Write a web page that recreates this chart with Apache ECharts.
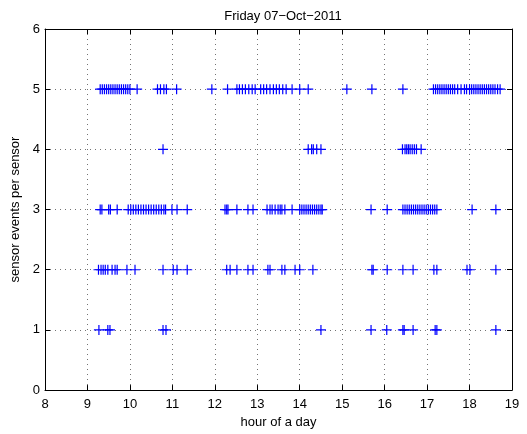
<!DOCTYPE html>
<html>
<head>
<meta charset="utf-8">
<title>sensor events</title>
<script src="https://cdn.jsdelivr.net/npm/echarts@6/dist/echarts.min.js"></script>
<style>
  body { margin: 0; background: #fff; }
  #main { width: 527px; height: 434px; }
</style>
</head>
<body>
<div id="main"></div>
<script>
// hours at which each event count was seen
var hours5 = [9.3, 9.35, 9.4, 9.45, 9.5, 9.55, 9.6, 9.65, 9.7, 9.75, 9.8, 9.85, 9.9, 9.95, 10.0, 10.17,
  10.65, 10.72, 10.8, 10.86, 11.1, 11.93, 12.3, 12.52, 12.58, 12.65, 12.72, 12.8, 12.88, 12.95,
  13.08, 13.15, 13.22, 13.3, 13.38, 13.45, 13.52, 13.6, 13.68, 13.82, 14.0, 14.2,
  15.11, 15.7, 16.43,
  17.15, 17.2, 17.25, 17.3, 17.35, 17.4, 17.45, 17.5, 17.55, 17.6, 17.65, 17.72, 17.8,
  17.88, 17.93, 18.0, 18.05, 18.1, 18.15, 18.2, 18.25, 18.3, 18.35, 18.4, 18.45, 18.5, 18.55, 18.6, 18.66, 18.72];
var hours4 = [10.78, 14.2, 14.28, 14.32, 14.4, 14.5,
  16.42, 16.48, 16.52, 16.56, 16.6, 16.65, 16.7, 16.75, 16.86];
var hours3 = [9.3, 9.34, 9.5, 9.54, 9.7,
  9.96, 10.02, 10.08, 10.14, 10.2, 10.26, 10.32, 10.38, 10.44, 10.5, 10.56, 10.62, 10.68, 10.74, 10.8, 10.84,
  10.99, 11.11, 11.35, 12.24, 12.28, 12.31, 12.52, 12.78, 12.9,
  13.23, 13.3, 13.35, 13.42, 13.49, 13.54, 13.58, 13.65, 13.82,
  14.0, 14.05, 14.1, 14.15, 14.2, 14.25, 14.3, 14.35, 14.4, 14.45, 14.5, 14.53,
  15.68, 16.06,
  16.43, 16.48, 16.53, 16.58, 16.63, 16.68, 16.73, 16.78, 16.83, 16.88, 16.93, 16.98, 17.03, 17.08, 17.13, 17.18, 17.23,
  18.06, 18.62];
var hours2 = [9.26, 9.32, 9.37, 9.42, 9.48, 9.58, 9.65, 9.7, 9.93, 10.12, 10.78, 11.02, 11.11, 11.35,
  12.28, 12.36, 12.52, 12.78, 12.9, 13.25, 13.3, 13.58, 13.65, 13.89, 14.0, 14.31,
  15.7, 15.73, 16.06, 16.43, 16.67, 17.16, 17.23, 17.94, 18.01, 18.62];
var hours1 = [9.27, 9.48, 9.53, 10.78, 10.85, 14.5, 15.68, 16.05, 16.43, 16.46, 16.67, 17.19, 17.23, 18.62];
var xTicks = [8, 9, 10, 11, 12, 13, 14, 15, 16, 17, 18, 19];
var yTicks = [0, 1, 2, 3, 4, 5, 6];

var points = [];
[[1, hours1], [2, hours2], [3, hours3], [4, hours4], [5, hours5]].forEach(function (row) {
  row[1].forEach(function (h) { points.push([h, row[0]]); });
});

var font = 'Liberation Sans, Arial, sans-serif';
var plus = 'path://M4.4,0h1.2v4.4h4.4v1.2h-4.4v4.4h-1.2v-4.4h-4.4v-1.2h4.4z';

function axisBase(show, margin) {
  return {
    axisLine: { show: true, onZero: false, lineStyle: { color: '#000', width: 1 } },
    axisTick: { show: true, inside: true, length: 5, lineStyle: { color: '#000' } },
    axisLabel: { show: show, color: '#000', fontSize: 13, fontFamily: font, margin: margin }
  };
}

var grid = { color: '#000', type: [1, 4], width: 1, opacity: 0.55 };

var myChart = echarts.init(document.getElementById('main'));
var option = {
  animation: false,
  backgroundColor: '#fff',
  title: {
    text: 'Friday 07\u2212Oct\u22122011',
    left: 278, top: 5, textAlign: 'center',
    textStyle: { fontSize: 13, fontWeight: 'normal', color: '#000', fontFamily: font }
  },
  grid: { left: 45, right: 15, top: 29, bottom: 38 },
  xAxis: [
    Object.assign(axisBase(true, 8), {
      type: 'value', min: 8, max: 19, interval: 1, position: 'bottom',
      name: 'hour of a day', nameLocation: 'middle', nameGap: 22,
      nameTextStyle: { fontSize: 13, color: '#000', fontFamily: font },
      splitLine: { show: true, lineStyle: grid }
    }),
    Object.assign(axisBase(false, 8), {
      type: 'value', min: 8, max: 19, interval: 1, position: 'top', splitLine: { show: false }
    })
  ],
  yAxis: [
    Object.assign(axisBase(true, 5), {
      type: 'value', min: 0, max: 6, interval: 1, position: 'left',
      name: 'sensor events per sensor', nameLocation: 'middle', nameGap: 20,
      nameTextStyle: { fontSize: 13, color: '#000', fontFamily: font },
      splitLine: { show: true, lineStyle: grid }
    }),
    Object.assign(axisBase(false, 5), {
      type: 'value', min: 0, max: 6, interval: 1, position: 'right', splitLine: { show: false }
    })
  ],
  series: [{
    type: 'scatter',
    data: points,
    symbol: plus,
    symbolSize: 10,
    itemStyle: { color: '#0000ff', opacity: 1 }
  }]
};
myChart.setOption(option);
</script>
</body>
</html>
